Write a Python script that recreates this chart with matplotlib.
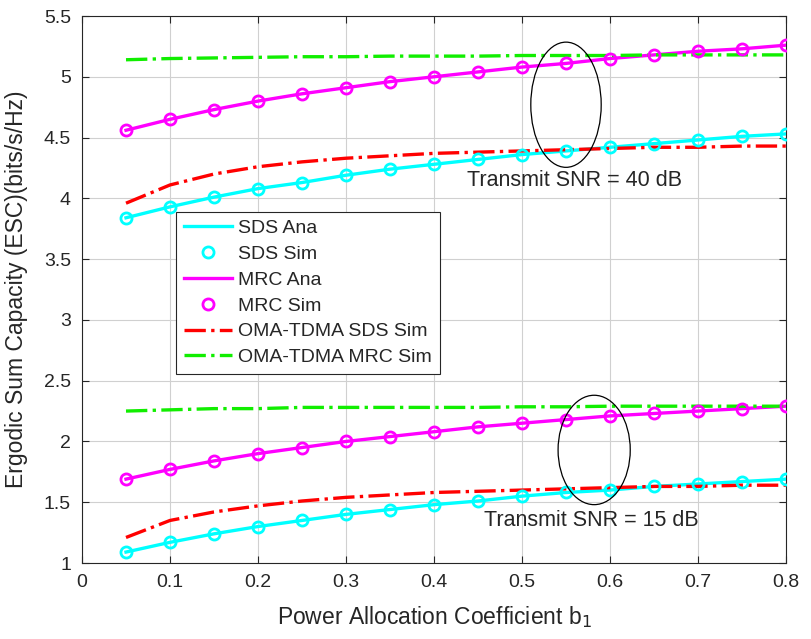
import matplotlib
matplotlib.use("Agg")
import matplotlib.pyplot as plt
from matplotlib.patches import Ellipse
import numpy as np

plt.rcParams['font.family'] = ['Liberation Sans', 'DejaVu Sans']

b1 = [0.05, 0.10, 0.15, 0.20, 0.25, 0.30, 0.35, 0.40, 0.45, 0.50, 0.55, 0.60, 0.65, 0.70, 0.75, 0.80]

# Transmit SNR = 40 dB
sds_40 = [3.84, 3.93, 4.01, 4.08, 4.13, 4.19, 4.24, 4.28, 4.32, 4.36, 4.39, 4.42, 4.45, 4.48, 4.51, 4.53]
mrc_40 = [4.56, 4.65, 4.73, 4.80, 4.86, 4.91, 4.96, 5.00, 5.04, 5.08, 5.11, 5.15, 5.18, 5.21, 5.23, 5.26]
oma_sds_40 = [3.96, 4.11, 4.20, 4.26, 4.30, 4.33, 4.35, 4.37, 4.38, 4.39, 4.40, 4.41, 4.42, 4.42, 4.43, 4.43]
oma_mrc_40 = [5.14, 5.15, 5.155, 5.16, 5.165, 5.165, 5.17, 5.17, 5.17, 5.175, 5.175, 5.175, 5.18, 5.18, 5.18, 5.18]

# Transmit SNR = 15 dB
sds_15 = [1.09, 1.17, 1.24, 1.30, 1.35, 1.40, 1.44, 1.48, 1.51, 1.55, 1.58, 1.60, 1.63, 1.65, 1.67, 1.69]
mrc_15 = [1.69, 1.77, 1.84, 1.90, 1.95, 2.00, 2.04, 2.08, 2.12, 2.15, 2.18, 2.21, 2.23, 2.25, 2.27, 2.29]
oma_sds_15 = [1.21, 1.35, 1.42, 1.47, 1.51, 1.54, 1.56, 1.58, 1.59, 1.60, 1.61, 1.62, 1.63, 1.63, 1.64, 1.64]
oma_mrc_15 = [2.25, 2.26, 2.27, 2.27, 2.28, 2.28, 2.28, 2.28, 2.28, 2.285, 2.285, 2.29, 2.29, 2.29, 2.29, 2.29]

xticks = [0, 0.1, 0.2, 0.3, 0.4, 0.5, 0.6, 0.7, 0.8]
yticks = [1, 1.5, 2, 2.5, 3, 3.5, 4, 4.5, 5, 5.5]

cyan = '#00ffff'
mag = '#ff00ff'
red = '#ff0000'
green = '#11ee00'
txt = '#262626'

fig = plt.figure(figsize=(8.12, 6.39), dpi=100)
ax = fig.add_axes([82/812, 1-563/639, 704/812, 547/639])

lw = 2.4
ms = 8
mew = 2

for sds, mrc, osds, omrc, first in [(sds_40, mrc_40, oma_sds_40, oma_mrc_40, True),
                                    (sds_15, mrc_15, oma_sds_15, oma_mrc_15, False)]:
    ax.plot(b1, sds, '-', color=cyan, lw=lw, label='SDS Ana' if first else None, zorder=3)
    ax.plot(b1, sds, 'o', color=cyan, ms=ms, mew=mew, mfc='none', label='SDS Sim' if first else None, zorder=4)
    ax.plot(b1, mrc, '-', color=mag, lw=lw, label='MRC Ana' if first else None, zorder=3)
    ax.plot(b1, mrc, 'o', color=mag, ms=ms, mew=mew, mfc='none', label='MRC Sim' if first else None, zorder=4)
    ax.plot(b1, osds, '-.', color=red, lw=lw, label='OMA-TDMA SDS Sim' if first else None, zorder=3)
    ax.plot(b1, omrc, '-.', color=green, lw=lw, label='OMA-TDMA MRC Sim' if first else None, zorder=3)

ax.add_patch(Ellipse((0.55, 4.77), 0.08, 1.03, fill=False, ec='black', lw=0.9, zorder=5))
ax.add_patch(Ellipse((0.582, 1.93), 0.082, 0.90, fill=False, ec='black', lw=0.9, zorder=5))
ax.text(0.4375, 4.15, 'Transmit SNR = 40 dB', fontsize=15.5, color=txt, va='center', ha='left')
ax.text(0.457, 1.35, 'Transmit SNR = 15 dB', fontsize=15.5, color=txt, va='center', ha='left')

ax.set_xlim(0, 0.8)
ax.set_ylim(1, 5.5)
ax.set_xticks(xticks)
ax.set_yticks(yticks)
ax.set_xticklabels([f'{v:g}' for v in xticks])
ax.set_yticklabels([f'{v:g}' for v in yticks])
ax.tick_params(direction='in', top=True, right=True, labelsize=14, colors=txt, length=5, pad=8)
ax.grid(True, color='#d0d0d0', lw=0.8)
ax.set_axisbelow(True)
for s in ax.spines.values():
    s.set_color(txt)
    s.set_linewidth(0.8)

ax.set_xlabel('Power Allocation Coefficient b$_1$', fontsize=16.5, color=txt)
ax.set_ylabel('Ergodic Sum Capacity (ESC)(bits/s/Hz)', fontsize=16.5, color=txt)
ax.xaxis.set_label_coords(0.5, -0.075)
ax.yaxis.set_label_coords(-0.077, 0.5)

leg = ax.legend(loc='upper left', bbox_to_anchor=(0.1335, 0.642), fontsize=14,
                frameon=True, fancybox=False, edgecolor=txt, framealpha=1,
                handlelength=2.5, borderpad=0.4, labelspacing=0.42, handletextpad=0.3,
                borderaxespad=0)
leg.get_frame().set_linewidth(0.8)
for t in leg.get_texts():
    t.set_color(txt)

fig.savefig('out.png', dpi=100)
